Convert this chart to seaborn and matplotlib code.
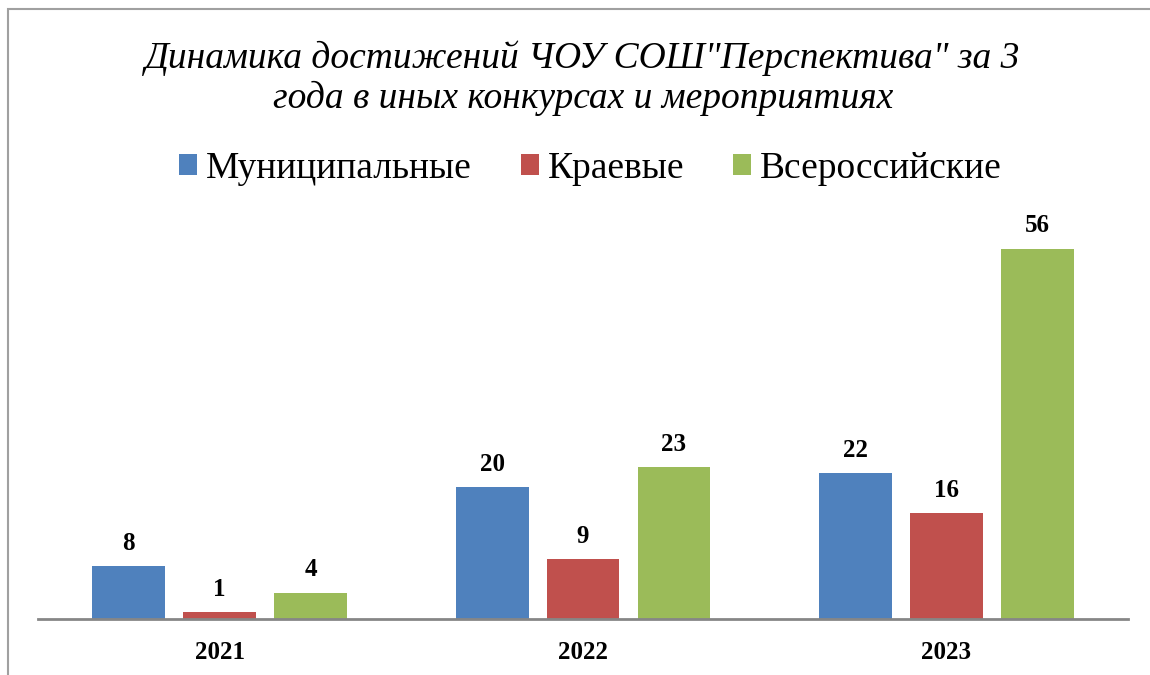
import pandas as pd
import seaborn as sns
import matplotlib.pyplot as plt
from matplotlib.patches import Rectangle

# Данные
years = ['2021', '2022', '2023']
levels = ['Муниципальные', 'Краевые', 'Всероссийские']
municipal = [8, 20, 22]
regional = [1, 9, 16]
federal = [4, 23, 56]
colors = ['#4F81BD', '#C0504D', '#9BBB59']

df = pd.DataFrame({
    'year': years * 3,
    'level': [levels[0]] * 3 + [levels[1]] * 3 + [levels[2]] * 3,
    'value': municipal + regional + federal,
})

sns.set_theme(style='white')
plt.rcParams['font.family'] = ['Liberation Serif', 'DejaVu Serif']
plt.rcParams['text.color'] = 'black'
plt.rcParams['xtick.color'] = 'black'

fig = plt.figure(figsize=(11.5, 6.75), dpi=100)
ax = fig.add_axes([0.033, 0.083, 0.948, 0.588])

sns.barplot(data=df, x='year', y='value', hue='level', hue_order=levels,
            palette=colors, width=0.75, gap=0.2, saturation=1, ax=ax,
            edgecolor='none')

for cont in ax.containers:
    ax.bar_label(cont, padding=8, fontsize=18, fontweight='bold', color='black')

ax.set_ylim(0, 60)
ax.set_xlim(-0.5, 2.5)
ax.set_xlabel('')
ax.set_ylabel('')
ax.set_yticks([])
for s in ['left', 'right', 'top']:
    ax.spines[s].set_visible(False)
ax.spines['bottom'].set_color('#868686')
ax.spines['bottom'].set_linewidth(2)
ax.tick_params(axis='x', length=0, pad=16)
for lbl in ax.get_xticklabels():
    lbl.set_fontsize(18)
    lbl.set_fontweight('bold')
    lbl.set_color('black')

ax.get_legend().remove()
handles, labels = ax.get_legend_handles_labels()
fig.legend(handles, labels, loc='center', bbox_to_anchor=(0.5135, 0.75),
           ncol=3, frameon=False, fontsize=27, handlelength=0.48,
           handleheight=0.48, handletextpad=0.24, columnspacing=1.3)

fig.text(0.507, 0.884, 'Динамика достижений ЧОУ СОШ"Перспектива" за 3\nгода в иных конкурсах и мероприятиях',
         ha='center', va='center', fontsize=27, style='italic', linespacing=1.2)

# рамка диаграммы
fig.patches.append(Rectangle((8 / 1150, -0.1), 1.2, 1.1 - 9 / 675,
                             transform=fig.transFigure, fill=False,
                             edgecolor='#A0A0A0', linewidth=1.5))

fig.savefig('out.png', dpi=100)
